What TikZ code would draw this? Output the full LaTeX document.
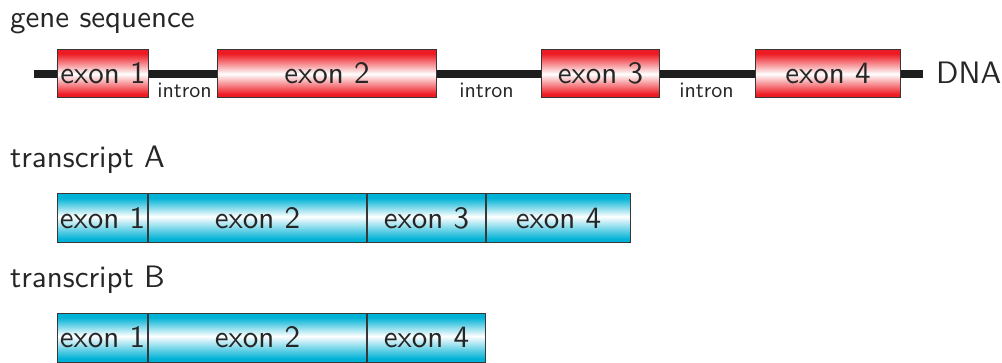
\documentclass[tikz,border=0pt]{standalone}
\usepackage{fontspec}
\setsansfont{lmsans10-regular.otf}
\definecolor{exred}{RGB}{237,28,36}
\definecolor{excyan}{RGB}{0,178,214}
\definecolor{edge}{RGB}{55,55,55}
\definecolor{dnaline}{RGB}{30,30,30}
\pgfdeclareverticalshading{redbar}{100bp}{color(0bp)=(exred); color(29bp)=(exred); color(50bp)=(white); color(71bp)=(exred); color(100bp)=(exred)}
\pgfdeclareverticalshading{cyanbar}{100bp}{color(0bp)=(excyan); color(29bp)=(excyan); color(52bp)=(white); color(71bp)=(excyan); color(100bp)=(excyan)}
\tikzset{
  every node/.style={font=\sffamily\fontsize{31}{36}\selectfont, text=black!85, inner sep=0pt},
  exbox/.style={draw=edge, line width=1pt, minimum height=48pt, text height=20pt, text depth=0pt, anchor=west},
  redbox/.style={exbox, shading=redbar},
  cyanbox/.style={exbox, shading=cyanbar, minimum height=49pt},
  intronlbl/.style={font=\sffamily\fontsize{22}{26}\selectfont, anchor=base},
  title/.style={anchor=base west},
  dna/.style={line width=7.5pt, draw=dnaline}
}
\begin{document}
\begin{tikzpicture}[x=1pt,y=-1pt]
\useasboundingbox (0,0) rectangle (1002,363);
% gene sequence
\node[title] (gs) at (10,28) {gene sequence};
\coordinate (ls) at (34,74);
\coordinate (le) at (923,74);
\node[redbox, minimum width=91pt] (e1) at (57,74) {exon 1};
\node[redbox, minimum width=219pt] (e2) at (217,74) {exon 2};
\node[redbox, minimum width=118pt] (e3) at (541,74) {exon 3};
\node[redbox, minimum width=145pt] (e4) at (755,74) {exon 4};
\draw[dna] (ls) -- (e1.west);
\draw[dna] (e1.east) -- (e2.west);
\draw[dna] (e2.east) -- (e3.west);
\draw[dna] (e3.east) -- (e4.west);
\draw[dna] (e4.east) -- (le);
\node[anchor=base west] (dna) at (936,84) {DNA};
\node[intronlbl] (i1) at (184.5,98) {intron};
\node[intronlbl] (i2) at (486.5,98) {intron};
\node[intronlbl] (i3) at (706.5,98) {intron};
% transcript A
\node[title] (ta) at (10,168) {transcript A};
\node[cyanbox, minimum width=90pt] (a1) at (57,218.5) {exon 1};
\node[cyanbox, minimum width=218pt] (a2) at (a1.east) {exon 2};
\node[cyanbox, minimum width=118pt] (a3) at (a2.east) {exon 3};
\node[cyanbox, minimum width=144pt] (a4) at (a3.east) {exon 4};
% transcript B
\node[title] (tb) at (10,288) {transcript B};
\node[cyanbox, minimum width=90pt] (b1) at (57,338) {exon 1};
\node[cyanbox, minimum width=218pt] (b2) at (b1.east) {exon 2};
\node[cyanbox, minimum width=118pt] (b3) at (b2.east) {exon 4};
\end{tikzpicture}
\end{document}
